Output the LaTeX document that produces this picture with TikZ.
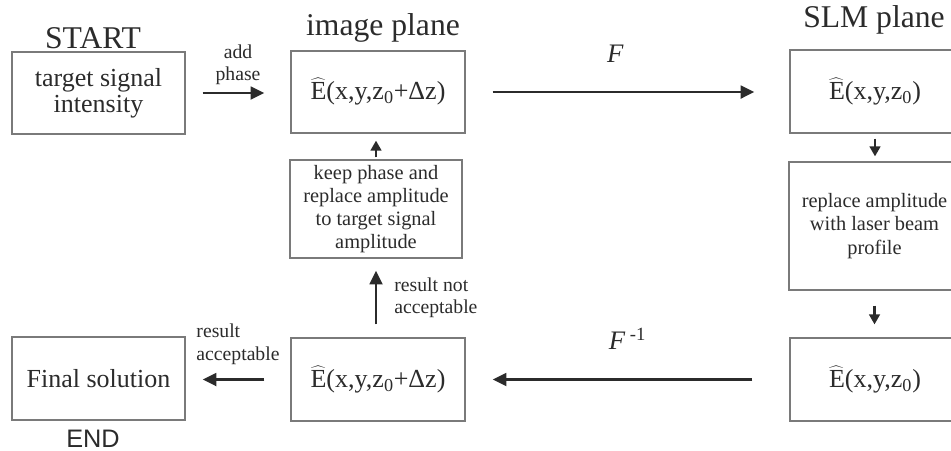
\documentclass[tikz,border=0pt]{standalone}
\usepackage{fontspec}
\setmainfont{Liberation Serif}
\newfontfamily\endfont{Liberation Sans}
\usetikzlibrary{arrows.meta}
\definecolor{frame}{HTML}{7A7A7A}
\definecolor{ink}{HTML}{2B2B2B}
\newcommand{\Ehat}{\(\widehat{\mbox{E}}\)}

\begin{document}
\begin{tikzpicture}[x=0.025cm,y=-0.025cm,
  box/.style={draw=frame,line width=0.9pt,text=ink,inner sep=0pt,align=center,font=\fontsize{18.5}{18.5}\selectfont},
  smallbox/.style={box,font=\fontsize{14.5}{16.5}\selectfont},
  head/.style={text=ink,inner sep=0pt,font=\fontsize{22.5}{24}\selectfont},
  note/.style={text=ink,inner sep=0pt,font=\fontsize{14}{16}\selectfont},
  flow/.style={-{Triangle[length=0.34cm,width=0.32cm]},line width=1.7pt,draw=ink},
  nudge/.style={-{Triangle[length=0.25cm,width=0.27cm]},line width=1.5pt,draw=ink}]
\useasboundingbox (0,0) rectangle (951,450);
% image plane column
\node[head] (start) at (93,38) {START};
\node[box,minimum width=4.325cm,minimum height=2.05cm] (target) at (98.5,93) {target signal\\intensity};
\node[head] (imgtitle) at (383,28) {image plane};
\node[box,minimum width=4.35cm,minimum height=2.05cm] (imgtop) at (378,92) {\Ehat(x,y,z\textsubscript{0}+Δz)};
\node[smallbox,minimum width=4.3cm,minimum height=2.45cm] (keep) at (376,209) {keep phase and\\replace amplitude\\to target signal\\amplitude};
\node[box,minimum width=4.35cm,minimum height=2.075cm] (imgbot) at (378,379.5) {\Ehat(x,y,z\textsubscript{0}+Δz)};
\node[box,minimum width=4.325cm,minimum height=2.075cm] (final) at (98.5,378.5) {Final solution};
\node[text=ink,inner sep=0pt,font=\endfont\fontsize{18}{18}\selectfont] (end) at (93,439) {END};
% SLM plane column
\node[head] (slmtitle) at (874,20) {SLM plane};
\node[box,minimum width=4.25cm,minimum height=2.075cm] (slmtop) at (875,91.5) {\Ehat(x,y,z\textsubscript{0})};
\node[smallbox,minimum width=4.275cm,minimum height=3.2cm] (laser) at (874.5,226) {replace amplitude\\with laser beam\\profile};
\node[box,minimum width=4.25cm,minimum height=2.075cm] (slmbot) at (875,379.5) {\Ehat(x,y,z\textsubscript{0})};
% connectors
\draw[flow,shorten <=0.425cm,shorten >=0.65cm] (target.east) -- (imgtop.west |- target.east) node[note,midway,above=0.17cm,align=center] (addph) {add\\phase};
\draw[flow,shorten <=0.675cm,shorten >=0.875cm] (imgtop.east) -- (slmtop.west |- imgtop.east) node[midway,above=0.7cm,text=ink,inner sep=0pt,xshift=-0.3cm,font=\fontsize{19}{19}\selectfont] (fwd) {\textit{F}};
\draw[nudge,shorten <=0.125cm,shorten >=0.125cm] (slmtop.south) -- (slmtop.south |- laser.north);
\draw[nudge,shorten <=0.375cm,shorten >=0.325cm] (laser.south) -- (laser.south |- slmbot.north);
\draw[flow,shorten <=0.925cm,shorten >=0.675cm] (slmbot.west) -- (imgbot.east |- slmbot.west) node[midway,above=0.72cm,text=ink,inner sep=0pt,font=\fontsize{19}{19}\selectfont] (bwd) {\textit{F}\,\textsuperscript{-1}};
\draw[flow,shorten <=0.65cm,shorten >=0.425cm] (imgbot.west) -- (final.east |- imgbot.west) node[note,midway,above=0.35cm,align=left] (ok) {result\\acceptable};
\draw[flow,shorten <=0.325cm,shorten >=0.3cm] (keep.south |- imgbot.north) -- (keep.south) node[note,midway,right=0.43cm,align=left] (notok) {result not\\acceptable};
\draw[nudge,shorten <=0.05cm,shorten >=0.175cm] (keep.north) -- (keep.north |- imgtop.south);
\end{tikzpicture}
\end{document}
